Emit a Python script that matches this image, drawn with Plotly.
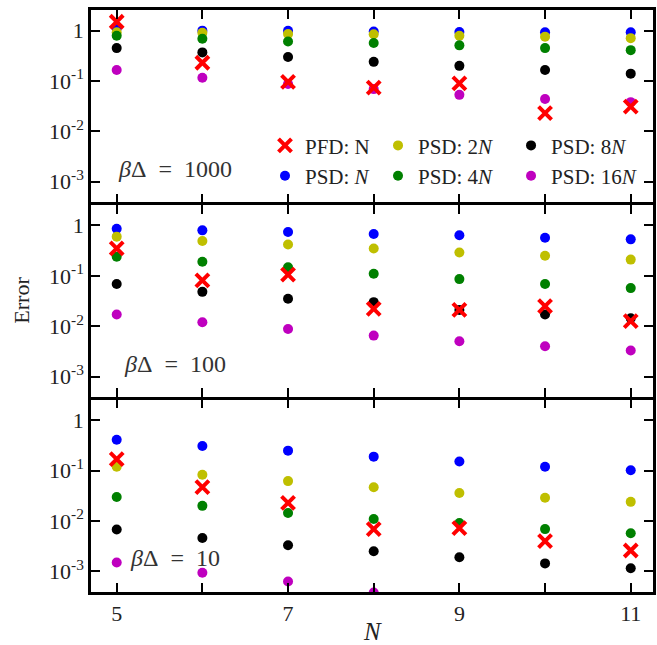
import plotly.graph_objects as go
from plotly.subplots import make_subplots

N = [5, 6, 7, 8, 9, 10, 11]
x_tick_vals = [5, 6, 7, 8, 9, 10, 11]
x_tick_text = ["5", "", "7", "", "9", "", "11"]
y_tick_vals = [1, 0.1, 0.01, 0.001]
y_tick_text = ["1", "10<sup>-1</sup>", "10<sup>-2</sup>", "10<sup>-3</sup>"]

panel_labels = ["1000", "100", "10"]

# beta*Delta = 1000
psd1_1000 = [1.1, 1.0, 0.99, 0.96, 0.94, 0.93, 0.93]
psd2_1000 = [0.93, 0.91, 0.86, 0.85, 0.79, 0.76, 0.71]
psd4_1000 = [0.79, 0.69, 0.61, 0.57, 0.51, 0.45, 0.41]
psd8_1000 = [0.45, 0.37, 0.30, 0.24, 0.20, 0.165, 0.14]
psd16_1000 = [0.165, 0.116, 0.087, 0.069, 0.053, 0.044, 0.038]
pfd_1000 = [1.5, 0.23, 0.096, 0.074, 0.09, 0.023, 0.031]

# beta*Delta = 100
psd1_100 = [0.86, 0.80, 0.74, 0.68, 0.64, 0.57, 0.53]
psd2_100 = [0.60, 0.49, 0.42, 0.35, 0.29, 0.25, 0.21]
psd4_100 = [0.24, 0.19, 0.148, 0.11, 0.086, 0.069, 0.057]
psd8_100 = [0.069, 0.048, 0.035, 0.030, 0.021, 0.017, 0.0144]
psd16_100 = [0.017, 0.012, 0.0088, 0.0065, 0.005, 0.004, 0.0033]
pfd_100 = [0.35, 0.081, 0.106, 0.022, 0.021, 0.025, 0.0126]

# beta*Delta = 10
psd1_10 = [0.41, 0.31, 0.25, 0.19, 0.152, 0.12, 0.102]
psd2_10 = [0.12, 0.083, 0.062, 0.047, 0.036, 0.029, 0.024]
psd4_10 = [0.030, 0.020, 0.0144, 0.011, 0.0091, 0.0069, 0.0057]
psd8_10 = [0.0068, 0.0046, 0.0033, 0.0025, 0.0019, 0.00144, 0.00115]
psd16_10 = [0.0015, 0.00094, 0.00063, 0.00038, None, None, None]
pfd_10 = [0.17, 0.047, 0.023, 0.0069, 0.0072, 0.0040, 0.0026]

panels = [
    dict(psd1=psd1_1000, psd2=psd2_1000, psd4=psd4_1000, psd8=psd8_1000, psd16=psd16_1000, pfd=pfd_1000),
    dict(psd1=psd1_100, psd2=psd2_100, psd4=psd4_100, psd8=psd8_100, psd16=psd16_100, pfd=pfd_100),
    dict(psd1=psd1_10, psd2=psd2_10, psd4=psd4_10, psd8=psd8_10, psd16=psd16_10, pfd=pfd_10),
]

# key, legend name, colour, legend column, rank within column
series_style = [
    ("psd1", "PSD: <i>N</i>", "#0000ff", "legend", 2),
    ("psd2", "PSD: 2<i>N</i>", "#bfbf00", "legend2", 1),
    ("psd4", "PSD: 4<i>N</i>", "#008000", "legend2", 2),
    ("psd8", "PSD: 8<i>N</i>", "#000000", "legend3", 1),
    ("psd16", "PSD: 16<i>N</i>", "#bf00bf", "legend3", 2),
]

FONT = "Liberation Serif"

fig = make_subplots(rows=3, cols=1, shared_xaxes=False, vertical_spacing=0.0043)

for i, p in enumerate(panels):
    row = i + 1
    for key, name, color, leg, rank in series_style:
        fig.add_trace(go.Scatter(
            x=N, y=p[key], mode="markers", name=name,
            marker=dict(symbol="circle", size=10, color=color),
            showlegend=(i == 0), legend=leg, legendrank=rank,
        ), row=row, col=1)
    fig.add_trace(go.Scatter(
        x=N, y=p["pfd"], mode="markers", name="PFD: N",
        marker=dict(symbol="x-thin", size=13, color="#ff0000",
                    line=dict(width=4, color="#ff0000")),
        showlegend=(i == 0), legend="legend", legendrank=1,
    ), row=row, col=1)

for i in range(3):
    row = i + 1
    fig.update_xaxes(
        range=[4.7, 11.26], tickvals=x_tick_vals, ticktext=x_tick_text,
        showticklabels=(row == 3), ticks="inside", ticklen=9, tickwidth=2,
        tickcolor="black", showline=True, linewidth=2.5, linecolor="black",
        mirror="ticks", showgrid=False, zeroline=False, automargin=False,
        tickfont=dict(family=FONT, size=22, color="#222"),
        row=row, col=1)
    fig.update_yaxes(
        type="log", range=[-3.41, 0.41], tickvals=y_tick_vals, ticktext=y_tick_text,
        ticks="inside", ticklen=9, tickwidth=2, tickcolor="black",
        showline=True, linewidth=2.5, linecolor="black", mirror="ticks",
        showgrid=False, zeroline=False, automargin=False,
        tickfont=dict(family=FONT, size=22, color="#222"),
        row=row, col=1)

yrefs = ["y domain", "y2 domain", "y3 domain"]
xrefs = ["x", "x2", "x3"]
for i, lab in enumerate(panel_labels):
    fig.add_annotation(
        x=5.68, xref=xrefs[i], y=0.175, yref=yrefs[i],
        text="<i>β</i>Δ\u2002=\u2002" + lab, showarrow=False,
        font=dict(family=FONT, size=24, color="#333"),
        xanchor="center", yanchor="middle")

fig.add_annotation(
    x=-0.123, xref="paper", y=0.502, yref="paper", text="Error",
    textangle=-90, showarrow=False,
    font=dict(family=FONT, size=22, color="#222"),
    xanchor="center", yanchor="middle")
fig.add_annotation(
    x=0.5, xref="paper", y=-0.0687, yref="paper", text="<i>N</i>",
    showarrow=False, font=dict(family=FONT, size=25, color="#222"),
    xanchor="center", yanchor="middle")

legend_common = dict(
    orientation="v", xanchor="left", y=0.802, yanchor="top",
    traceorder="normal", font=dict(family=FONT, size=21, color="#222"),
    bgcolor="rgba(0,0,0,0)", itemwidth=30, tracegroupgap=0,
)

fig.update_layout(
    width=657, height=645,
    margin=dict(l=91, r=4, t=10, b=53),
    paper_bgcolor="white", plot_bgcolor="white",
    showlegend=True,
    legend=dict(x=0.3096, **legend_common),
    legend2=dict(x=0.5107, **legend_common),
    legend3=dict(x=0.7474, **legend_common),
    font=dict(family=FONT),
)

fig.write_html("out.html", config={"displayModeBar": False},
               post_script="document.body.style.margin='0px';")
